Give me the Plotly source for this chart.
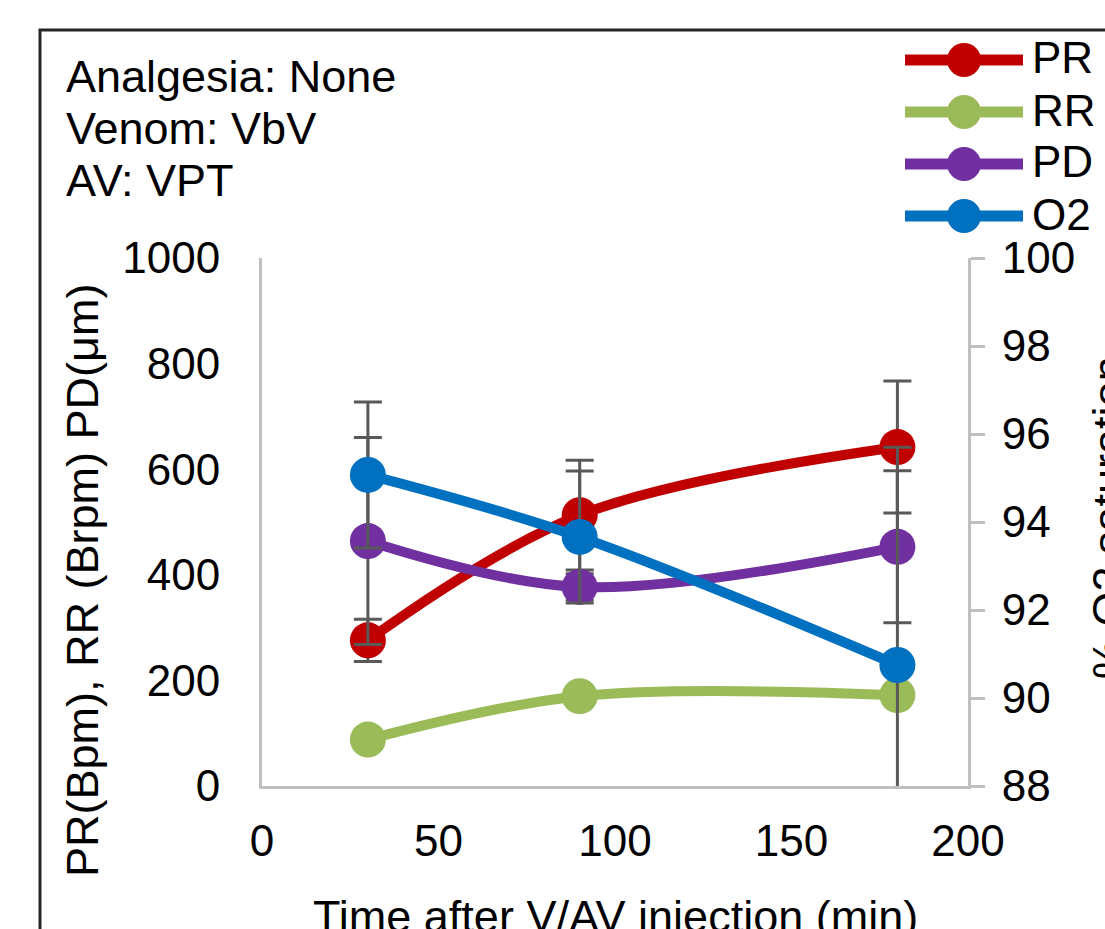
import plotly.graph_objects as go

# ---- data ----
time_min = [30, 90, 180]
pr_vals = [276, 513, 642]
pr_err = [40, 104, 125]
rr_vals = [88, 170, 172]
pd_vals = [464, 377, 453]
pd_err = [196, 25, 144]
o2_vals = [95.07, 93.66, 90.75]
o2_err = [1.66, 1.5, 4.95]

series_names = ["PR", "RR", "PD", "O2"]
series_colors = ["#C00000", "#9BBB59", "#7030A0", "#0070C0"]
x_ticks = [0, 50, 100, 150, 200]
left_ticks = [0, 200, 400, 600, 800, 1000]
right_ticks = [88, 90, 92, 94, 96, 98, 100]
info_lines = ["Analgesia: None", "Venom: VbV", "AV: VPT"]

W, H = 1105, 929
L, R, T, B = 262, 968, 258, 786
FONT = "Liberation Sans, Arial, sans-serif"
AXIS_GRAY = "#BFBFBF"
ERR_GRAY = "#595959"


def xp(px):
    return (px - L) / (R - L)


def yp(py):
    return (B - py) / (B - T)


fig = go.Figure()

def add_series(name, color, yvals, err, axis):
    kw = dict(
        x=time_min, y=yvals, name=name, mode="lines+markers",
        line=dict(color=color, width=10, shape="spline", smoothing=1.0),
        marker=dict(color=color, size=36),
        showlegend=False,
    )
    if err is not None:
        kw["error_y"] = dict(type="data", array=err, visible=True,
                             color=ERR_GRAY, thickness=3, width=14)
    if axis == "y2":
        kw["yaxis"] = "y2"
    fig.add_trace(go.Scatter(**kw))

add_series("PR", series_colors[0], pr_vals, pr_err, "y")
add_series("RR", series_colors[1], rr_vals, None, "y")
add_series("PD", series_colors[2], pd_vals, pd_err, "y")
add_series("O2", series_colors[3], o2_vals, o2_err, "y2")

shapes = []
annotations = []

# outer frame (cropped chart border)
shapes.append(dict(type="rect", xref="paper", yref="paper",
                   x0=xp(40), y0=yp(30), x1=xp(1130), y1=yp(960),
                   line=dict(color="#262626", width=3), fillcolor="rgba(0,0,0,0)",
                   layer="below"))

# manual legend
leg_y = [60, 112, 164, 216]
for name, color, py in zip(series_names, series_colors, leg_y):
    shapes.append(dict(type="line", xref="paper", yref="paper",
                       x0=xp(905), x1=xp(1023), y0=yp(py), y1=yp(py),
                       line=dict(color=color, width=11)))
    shapes.append(dict(type="circle", xref="paper", yref="paper",
                       xsizemode="pixel", ysizemode="pixel",
                       xanchor=xp(964), yanchor=yp(py),
                       x0=-17, x1=17, y0=-17, y1=17,
                       fillcolor=color, line=dict(color=color, width=0)))
    annotations.append(dict(text=name, xref="paper", yref="paper",
                            x=xp(1030), y=yp(py - 2), xanchor="left", yanchor="middle",
                            showarrow=False, font=dict(family=FONT, size=44, color="#000000")))

# info text
for line, py in zip(info_lines, [76, 128, 180]):
    annotations.append(dict(text=line, xref="paper", yref="paper",
                            x=xp(64), y=yp(py), xanchor="left", yanchor="middle",
                            showarrow=False, font=dict(family=FONT, size=45, color="#000000")))

# axis titles
annotations.append(dict(text="PR(Bpm), RR (Brpm) PD(μm)", xref="paper", yref="paper",
                        x=xp(82), y=yp(581), xanchor="center", yanchor="middle",
                        textangle=-90, showarrow=False,
                        font=dict(family=FONT, size=45, color="#000000")))
annotations.append(dict(text="% O2 saturation", xref="paper", yref="paper",
                        x=xp(1108), y=yp(518), xanchor="center", yanchor="middle",
                        textangle=-90, showarrow=False,
                        font=dict(family=FONT, size=45, color="#000000")))
annotations.append(dict(text="Time after V/AV injection (min)", xref="paper", yref="paper",
                        x=xp(615), y=yp(916), xanchor="center", yanchor="middle",
                        showarrow=False,
                        font=dict(family=FONT, size=45, color="#000000")))

fig.update_layout(
    width=W, height=H,
    margin=dict(l=L, r=W - R, t=T, b=H - B, pad=0),
    paper_bgcolor="white", plot_bgcolor="white",
    font=dict(family=FONT, size=44, color="#000000"),
    shapes=shapes, annotations=annotations,
    showlegend=False,
    xaxis=dict(range=[0, 200], tickvals=x_ticks, showgrid=False, zeroline=False,
               showline=True, linecolor=AXIS_GRAY, linewidth=3, ticks="",
               ticklabelstandoff=14, tickfont=dict(size=44)),
    yaxis=dict(range=[0, 1000], tickvals=left_ticks, showgrid=False, zeroline=False,
               showline=True, linecolor=AXIS_GRAY, linewidth=3, ticks="",
               ticklabelstandoff=30, tickfont=dict(size=44)),
    yaxis2=dict(range=[88, 100], tickvals=right_ticks, overlaying="y", side="right",
                showgrid=False, zeroline=False, showline=True, linecolor=AXIS_GRAY,
                linewidth=3, ticks="outside", ticklen=14, tickwidth=3, tickcolor=AXIS_GRAY,
                ticklabelstandoff=8, tickfont=dict(size=44)),
)

fig.write_html("out.html")
